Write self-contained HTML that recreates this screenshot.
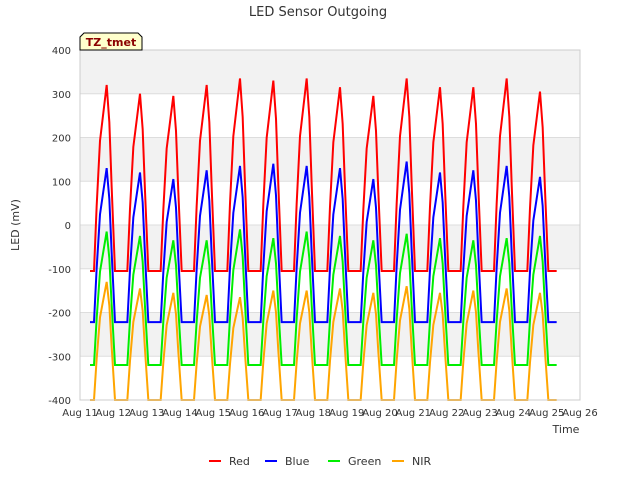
<!DOCTYPE html>
<html><head><meta charset="utf-8"><style>
body{margin:0;background:#fff;font-family:"Liberation Sans","DejaVu Sans",sans-serif}
</style></head><body>
<svg id="c" width="640" height="480" xmlns="http://www.w3.org/2000/svg" font-family="DejaVu Sans, Liberation Sans, sans-serif">
<text x="318" y="16" text-anchor="middle" font-size="13" fill="#333">LED Sensor Outgoing</text>
<text transform="translate(19,225) rotate(-90)" text-anchor="middle" font-size="11" fill="#333">LED (mV)</text>
<text x="566" y="433" text-anchor="middle" font-size="11" fill="#333">Time</text>
<g id="bands"></g><g id="grid"></g><g id="series"></g><g id="ticks"></g>
<rect x="80" y="50" width="500" height="350" fill="none" stroke="#ccc"/>
<g>
<path d="M80,50 L80,37 L84,33 L138,33 L142,37 L142,50 Z" fill="#ffffcc" stroke="#000"/>
<text x="111" y="46" text-anchor="middle" font-size="11" font-weight="bold" fill="#8b0000">TZ_tmet</text></g>
<g id="legend"></g>
</svg>
<script>
const days=[11,12,13,14,15,16,17,18,19,20,21,22,23,24];
const yTicks=[-400,-300,-200,-100,0,100,200,300,400];
const xTickLabels=["Aug 11","Aug 12","Aug 13","Aug 14","Aug 15","Aug 16","Aug 17","Aug 18","Aug 19","Aug 20","Aug 21","Aug 22","Aug 23","Aug 24","Aug 25","Aug 26"];
const redPeaks=[320,300,295,320,335,330,335,315,295,335,315,315,335,305];
const bluePeaks=[130,120,105,125,135,140,135,130,105,145,120,125,135,110];
const greenPeaks=[-15,-25,-35,-35,-10,-30,-15,-25,-35,-20,-30,-35,-30,-25];
const nirPeaks=[-130,-145,-155,-160,-165,-150,-150,-145,-155,-140,-155,-150,-145,-155];
const baselines=[-105,-222,-320,-400];
const names=["Red","Blue","Green","NIR"];
const colors=["#ff0000","#0000ff","#00ee00","#ffa500"];
const ns="http://www.w3.org/2000/svg";
const X=d=>80+(d-11)*500/15, Y=v=>400-(v+400)*350/800;
function mk(t,a,p){const e=document.createElementNS(ns,t);for(const k in a)e.setAttribute(k,a[k]);p.appendChild(e);return e;}
const bands=document.getElementById('bands'),grid=document.getElementById('grid'),ticks=document.getElementById('ticks');
for(let i=0;i<yTicks.length-1;i++){const lo=yTicks[i];
 if(lo===-300||lo===-100||lo===100||lo===300){const r=mk('rect',{x:80,y:Y(lo+100),width:500,height:Y(lo)-Y(lo+100),fill:'#f2f2f2'},bands);
 
 }}
yTicks.forEach(v=>{const l=mk('line',{x1:80,x2:580,y1:Y(v),y2:Y(v),stroke:'#ddd'},grid);
 
 
 const t=mk('text',{x:71,y:Y(v)+4,'text-anchor':'end','font-size':10,fill:'#333'},ticks);t.textContent=v;
 
 });
xTickLabels.forEach((s,i)=>{const t=mk('text',{x:X(11+i),y:416,'text-anchor':'middle','font-size':10,fill:'#333'},ticks);t.textContent=s;
 
 });
const peaks=[redPeaks,bluePeaks,greenPeaks,nirPeaks];
const shape=[[0.42,0],[0.5,0.35],[0.6,0.7],[0.7,0.85],[0.8,1],[0.88,0.8],[0.95,0.45],[1.05,0]];
const sg=document.getElementById('series');
[3,2,1,0].forEach(s=>{const b=baselines[s];let pts=[[X(11.3),Y(b)]];
 days.forEach((d,i)=>{const a=peaks[s][i]-b;shape.forEach(([f,k])=>pts.push([X(d+f),Y(b+a*k)]));});
 pts.push([X(25.3),Y(b)]);
 const p=mk('polyline',{points:pts.map(q=>q.join(',')).join(' '),fill:'none',stroke:colors[s],'stroke-width':2},sg);
 
 });
const lg=document.getElementById('legend');
const lx=[209,265,328,392];
names.forEach((n,i)=>{const g=mk('g',{},lg);
 
 
 mk('line',{x1:lx[i],x2:lx[i]+12,y1:461,y2:461,stroke:colors[i],'stroke-width':2},g);
 const t=mk('text',{x:lx[i]+20,y:465,'font-size':11,fill:'#333'},g);t.textContent=n;});
</script>
</body></html>
